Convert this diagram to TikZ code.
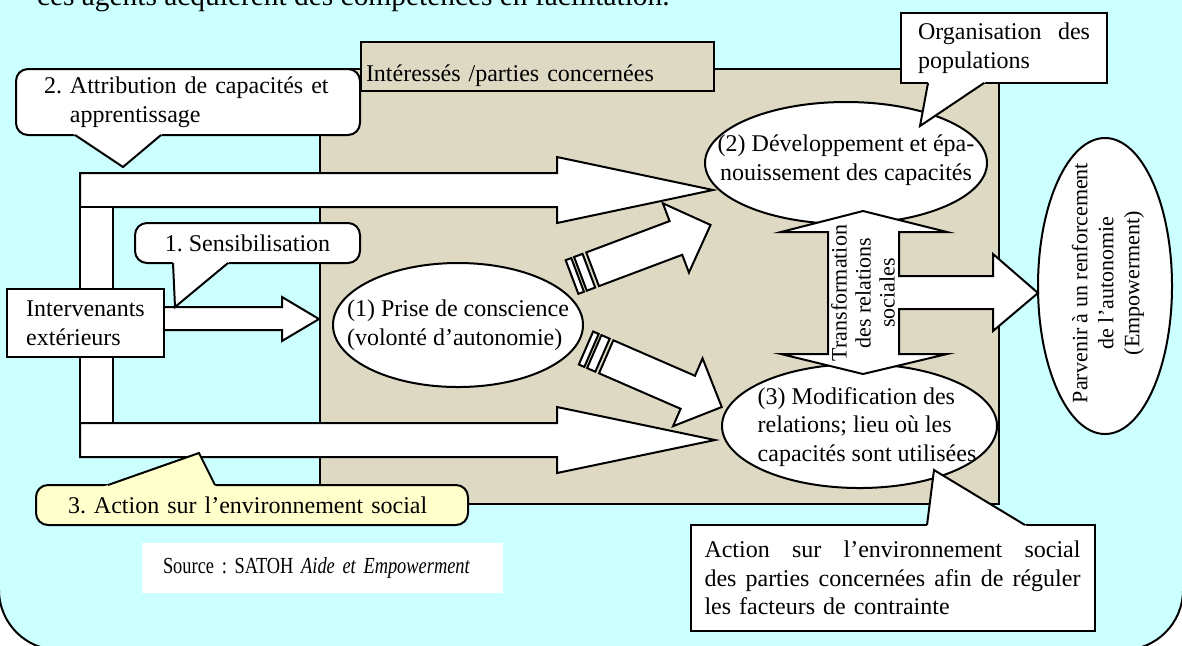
\documentclass[tikz,border=0pt]{standalone}
\usepackage{fontspec}
\setmainfont{Liberation Serif}
\newfontfamily\sourcefont[FakeStretch=0.8]{Liberation Serif}
\usetikzlibrary{shapes.geometric, calc}
\frenchspacing

\definecolor{fondcyan}{RGB}{204,255,255}
\definecolor{beige}{RGB}{221,217,195}
\definecolor{jaune}{RGB}{255,255,204}

\tikzset{
  bulle/.style={ellipse, draw, fill=white, inner sep=0pt},
  cadre/.style={draw, fill=white},
  rondbox/.style={draw, fill=white, rounded corners=6pt, inner xsep=7pt},
  pics/flecherayee/.style={code={
    \draw[fill=white] (0,-18) rectangle (6,18);
    \draw[fill=white] (9,-18) rectangle (18,18);
    \draw[fill=white] (22,-18) -- (111,-18) -- (111,-37) -- (148,0)
      -- (111,37) -- (111,18) -- (22,18) -- cycle;
  }}
}

\newcommand{\queuebulle}[4]{%
  \fill[#1] ($(#2)!-4pt!(#3)$) -- (#3) -- ($(#4)!-4pt!(#3)$) -- cycle;
  \draw (#2) -- (#3) -- (#4);}

\begin{document}
\begin{tikzpicture}[x=0.5pt, y=-0.5pt, line width=1pt, font=\fontsize{12}{14.25}\selectfont]
  \useasboundingbox (0,0) rectangle (1182,645);
  \draw[fill=fondcyan, rounded corners=30pt] (-1,-60) rectangle (1183,650);
  \node[anchor=base west, inner sep=0pt, font=\fontsize{14.7}{17}\selectfont] (intro) at (36,5)
    {ces agents acquièrent des compétences en facilitation.};

  \draw[fill=beige] (320,69) rectangle (999,504);
  \node[draw, fill=beige, anchor=north west, text width=171.5pt, inner xsep=2.5pt,
    inner ysep=0pt, text height=19.5pt, text depth=5pt, align=left] (interesses) at (360,41)
    {Intéressés /parties concernées};

  \draw[fill=white] (80,173) -- (557,173) -- (557,157) -- (713,190) -- (557,223) -- (557,207) -- (80,207) -- cycle;
  \draw[fill=white] (80,207) rectangle (113,423);
  \draw[fill=white] (80,423) -- (557,423) -- (557,407) -- (715,440) -- (557,473) -- (557,457) -- (80,457) -- cycle;

  \node[cadre, minimum width=78.5pt, minimum height=34pt, align=left] (ext) at (85.5,323) {Intervenants\\extérieurs};
  \draw[fill=white] (ext.east |- 0,307) -- (282,307) -- (282,297) -- (319,319) -- (282,341) -- (282,330) -- (ext.east |- 0,330);

  \node[bulle, minimum width=125pt, minimum height=62pt] (prise) at (458,325) {};
  \node[align=left] (prisetxt) at (prise) {(1) Prise de conscience\\(volonté d’autonomie)};
  \node[bulle, minimum width=141pt, minimum height=61pt] (devel) at (846,163) {};
  \node[align=center] (develtxt) at (846,160) {(2) Développement et épa-\\nouissement des capacités};
  \node[bulle, minimum width=137.5pt, minimum height=62pt] (modif) at (859.5,426) {};
  \node[align=left] (modiftxt) at (867,427) {(3) Modification des\\relations; lieu où les\\capacités sont utilisées};
  \node[bulle, minimum width=67pt, minimum height=148pt] (empow) at (1105,286) {};
  \node[rotate=90, align=center, font=\fontsize{11}{13}\selectfont] (empowtxt) at (1108,283)
    {Parvenir à un renforcement\\de l’autonomie\\(Empowerment)};

  \pic[rotate=20.6] at (572,277) {flecherayee};
  \pic[rotate=-23.5] at (586,348) {flecherayee};

  \draw[fill=white] (863,211) -- (947,232) -- (899,232) -- (899,276) -- (993,276) -- (993,254) -- (1038,293)
    -- (993,331) -- (993,309) -- (899,309) -- (899,354) -- (947,354) -- (863,374) -- (781,354)
    -- (828,354) -- (828,232) -- (781,232) -- cycle;
  \node[rotate=90, align=center, font=\fontsize{11}{12}\selectfont] (transfo) at (863,293)
    {Transformation\\des relations\\sociales};

  \node[rondbox, minimum width=172pt, minimum height=33pt, text width=144pt, inner xsep=14pt, align=left] (attrib) at (188,102)
    {2.~Attribution de capacités et\\\phantom{2.~}apprentissage};
  \queuebulle{white}{75,135}{123,167}{161,135}
  \node[rondbox, minimum width=112.5pt, minimum height=20pt] (sensib) at (247.5,243) {1. Sensibilisation};
  \queuebulle{white}{173,263}{175,307}{228,263}
  \node[rondbox, fill=jaune, minimum height=20pt, text width=184pt, inner xsep=16pt, align=left] (envsoc) at (252,505)
    {3. Action sur l’environnement social};
  \queuebulle{jaune}{108,485}{199,453}{215,485}

  \node[cadre, minimum height=35pt, text width=86pt, inner xsep=8.5pt, align=left] (orga) at (1004,48)
    {Organisation\hfill des\\populations};
  \queuebulle{white}{928,83}{920,126}{984,83}
  \node[cadre, minimum height=53pt, text width=188pt, inner xsep=7pt, align=left] (actsoc) at (892.5,578)
    {Action\hfill sur\hfill l’environnement\hfill social\\des\hfill parties\hfill concernées\hfill afin\hfill de\hfill réguler\\les facteurs de contrainte};
  \queuebulle{white}{927,525}{934,470}{1025,525}

  \node[fill=white, minimum height=25pt, text width=159.5pt, inner xsep=10.5pt, align=left,
    font=\sourcefont\fontsize{11.5}{13}\selectfont] (source) at (322.5,568)
    {Source : SATOH \textit{Aide et Empowerment}};
\end{tikzpicture}
\end{document}
